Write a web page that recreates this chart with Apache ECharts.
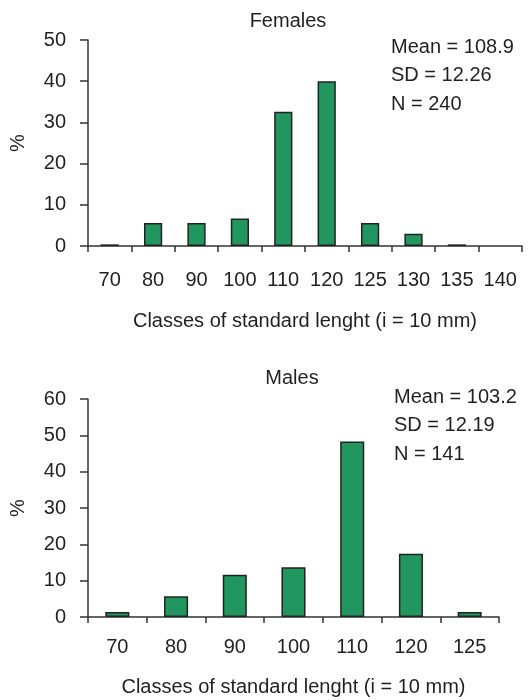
<!DOCTYPE html>
<html>
<head>
<meta charset="utf-8">
<script src="https://cdn.jsdelivr.net/npm/echarts@6/dist/echarts.min.js"></script>
<style>
html,body{margin:0;padding:0;background:#fff;}
#chart{width:531px;height:700px;}
</style>
</head>
<body>
<div id="chart"></div>
<script>
const femaleClasses = ['70','80','90','100','110','120','125','130','135','140'];
const femalePct = [0.4, 5.6, 5.6, 6.7, 32.6, 40.0, 5.6, 3.0, 0.4, 0];
const femaleStats = ['Mean = 108.9', 'SD = 12.26', 'N = 240'];

const maleClasses = ['70','80','90','100','110','120','125'];
const malePct = [1.4, 5.7, 11.6, 13.7, 48.3, 17.4, 1.4];
const maleStats = ['Mean = 103.2', 'SD = 12.19', 'N = 141'];

const xName = 'Classes of standard lenght (i = 10 mm)';
const yName = '%';

const FONT = "'Liberation Sans', Arial, sans-serif";
const TXT = '#231f20';
const FS = 20;

const chart = echarts.init(document.getElementById('chart'), null, {renderer: 'canvas'});

function xAxisCfg(gridIndex, cats, labelMargin, nameGap) {
  return {
    type: 'category', gridIndex, data: cats,
    boundaryGap: true,
    name: xName, nameLocation: 'middle', nameGap,
    nameTextStyle: {fontFamily: FONT, fontSize: FS, color: TXT},
    axisLine: {show: true, lineStyle: {color: '#333', width: 1.5}},
    axisTick: {show: true, alignWithLabel: false, length: 6, lineStyle: {color: '#333', width: 1.5}},
    axisLabel: {fontFamily: FONT, fontSize: FS, color: TXT, margin: labelMargin, interval: 0},
    splitLine: {show: false}
  };
}
function yAxisCfg(gridIndex, max) {
  return {
    type: 'value', gridIndex, min: 0, max, interval: 10,
    name: yName, nameLocation: 'middle', nameGap: 60, nameRotate: 90,
    nameTextStyle: {fontFamily: FONT, fontSize: FS, color: TXT},
    axisLine: {show: true, lineStyle: {color: '#333', width: 1.5}},
    axisTick: {show: true, length: 8, lineStyle: {color: '#333', width: 1.5}},
    axisLabel: {fontFamily: FONT, fontSize: FS, color: TXT, margin: 22},
    splitLine: {show: false}
  };
}
function statsGraphics(x, y0, lines) {
  return lines.map((t, i) => ({
    type: 'text', x, y: y0 + i * 28.5,
    style: {text: t, font: FS + 'px ' + FONT, fill: TXT, textAlign: 'left', textVerticalAlign: 'middle'}
  }));
}
// zero-value classes draw no bar at all
const toBars = arr => arr.map(v => (v === 0 ? null : v));

const barStyle = {color: '#21965e', borderColor: '#222', borderWidth: 1.5};

chart.setOption({
  animation: false,
  grid: [
    {left: 84, top: 40, right: 9, bottom: 454},
    {left: 86, top: 399, right: 32, bottom: 83}
  ],
  xAxis: [xAxisCfg(0, femaleClasses, 24, 65), xAxisCfg(1, maleClasses, 20, 60)],
  yAxis: [yAxisCfg(0, 50), yAxisCfg(1, 60)],
  series: [
    {type: 'bar', xAxisIndex: 0, yAxisIndex: 0, data: toBars(femalePct), barWidth: '42%', itemStyle: barStyle},
    {type: 'bar', xAxisIndex: 1, yAxisIndex: 1, data: toBars(malePct), barWidth: '41%', itemStyle: barStyle}
  ],
  graphic: [
    {type: 'text', x: 288, y: 21, style: {text: 'Females', font: FS + 'px ' + FONT, fill: TXT, textAlign: 'center', textVerticalAlign: 'middle'}},
    {type: 'text', x: 292, y: 378, style: {text: 'Males', font: FS + 'px ' + FONT, fill: TXT, textAlign: 'center', textVerticalAlign: 'middle'}}
  ].concat(statsGraphics(391, 47, femaleStats), statsGraphics(394, 397, maleStats))
});
</script>
</body>
</html>
